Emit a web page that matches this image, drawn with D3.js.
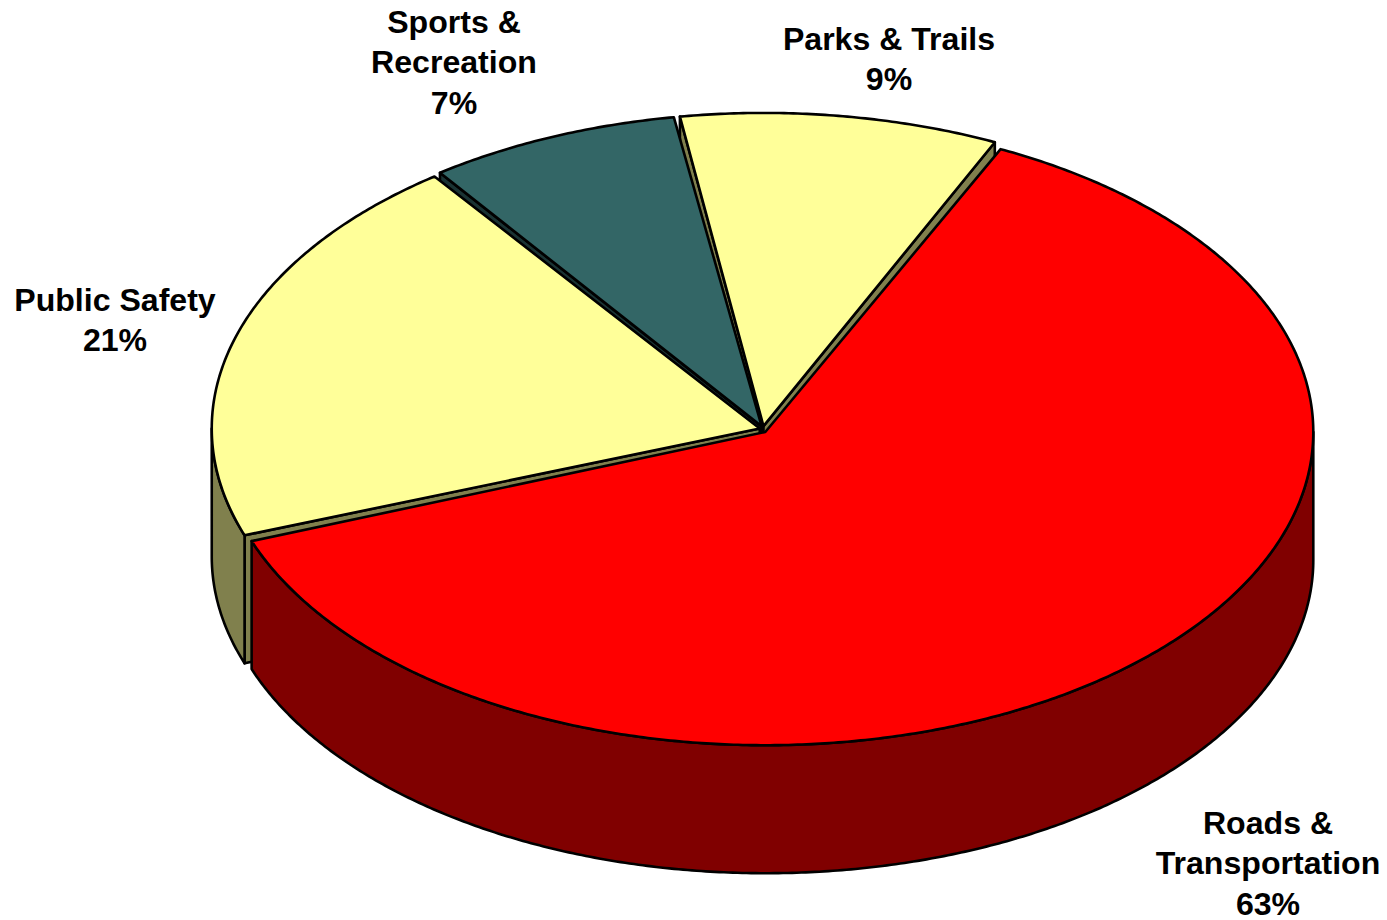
<!DOCTYPE html>
<html>
  <head>
    <meta charset="utf-8">
    <script src="https://d3js.org/d3.v7.min.js"></script>
    <style>
      html, body { margin: 0; background: #fff; }
      svg { display: block; }
      text { font-family: "Liberation Sans", Arial, sans-serif; font-weight: bold; font-size: 32.1px; fill: #000; text-anchor: middle; }
    </style>
  </head>
  <body>
    <svg width="1387" height="920"></svg>
    <script>

    // slices clockwise from the top right edge of the red one
    var categories = ["Roads & Transportation", "Public Safety", "Sports & Recreation", "Parks & Trails"];
    var shares = [62.4, 20.55, 7.55, 9.5];   // what the drawn angles show
    var percentLabels = ["63%", "21%", "7%", "9%"];   // what the labels say
    var labelLines = [["Roads &", "Transportation"], ["Public Safety"], ["Sports &", "Recreation"], ["Parks & Trails"]];

    var topColors = ["#ff0000", "#ffff99", "#336666", "#ffff99"];
    var sideColors = ["#800000", "#80804d", "#1a3333", "#80804d"];
    var labelAt = [[1268, 834], [115, 310.5], [454, 33], [889, 50]];

    var cx = 763, cy = 429.5, rx = 548, ry = 313.2, depth = 128, explode = 3.4, lineWidth = 2.6, lineGap = 40.3;
    var gapAngle = 0.004;
    var startAngle = 25.2 * Math.PI / 180;

    var svg = d3.select("svg");

    // unit circle -> flattened pie
    var xScale = d3.scaleLinear().domain([-1, 1]).range([cx - rx, cx + rx]);
    var yScale = d3.scaleLinear().domain([-1, 1]).range([cy - ry, cy + ry]);

    var pie = d3.pie().sort(null).startAngle(startAngle).endAngle(startAngle + 2 * Math.PI);
    var slices = pie(shares);

    var line = d3.line().x(function(d) { return d[0]; }).y(function(d) { return d[1]; });

    function rimPoint(a, r, drop) {
      return [xScale(r * Math.sin(a)), yScale(-r * Math.cos(a)) + (drop || 0)];
    }

    function arcPoints(a0, a1, drop) {
      var n = Math.max(2, Math.ceil((a1 - a0) * 120));
      return d3.range(n + 1).map(function(i) { return rimPoint(a0 + (a1 - a0) * i / n, 1, drop); });
    }

    // back to front, so nearer slices cover the hidden walls
    d3.range(slices.length).reverse().forEach(function(i) {
      var s = slices[i];
      var mid = (s.startAngle + s.endAngle) / 2;
      var start = s.startAngle + gapAngle, end = s.endAngle - gapAngle;
      var g = svg.append("g")
        .attr("transform", "translate(" + (explode * Math.sin(mid)) + "," + (-explode * Math.cos(mid)) + ")")
        .attr("stroke", "#000").attr("stroke-width", lineWidth).attr("stroke-linejoin", "round");

      // cut faces that look toward the viewer
      [[start, -Math.sin(start)], [end, Math.sin(end)]].forEach(function(e) {
        if (e[1] <= 0) return;
        g.append("path")
          .attr("d", line([rimPoint(0, 0), rimPoint(e[0], 1), rimPoint(e[0], 1, depth), rimPoint(0, 0, depth)]) + "Z")
          .attr("fill", sideColors[i]);
      });

      // outer wall, front half of the rim only
      var a0 = Math.max(start, Math.PI / 2), a1 = Math.min(end, 3 * Math.PI / 2);
      if (a1 > a0) {
        g.append("path")
          .attr("d", line(arcPoints(a0, a1, 0).concat(arcPoints(a0, a1, depth).reverse())) + "Z")
          .attr("fill", sideColors[i]);
      }

      // top face
      g.append("path")
        .attr("d", line([rimPoint(0, 0)].concat(arcPoints(start, end, 0))) + "Z")
        .attr("fill", topColors[i]);
    });

    // labels
    categories.forEach(function(c, i) {
      var t = svg.append("text").attr("x", labelAt[i][0]).attr("y", labelAt[i][1]);
      labelLines[i].concat([percentLabels[i]]).forEach(function(l, j) {
        t.append("tspan").attr("x", labelAt[i][0]).attr("y", labelAt[i][1] + j * lineGap).text(l);
      });
    });

    </script>
  </body>
</html>
